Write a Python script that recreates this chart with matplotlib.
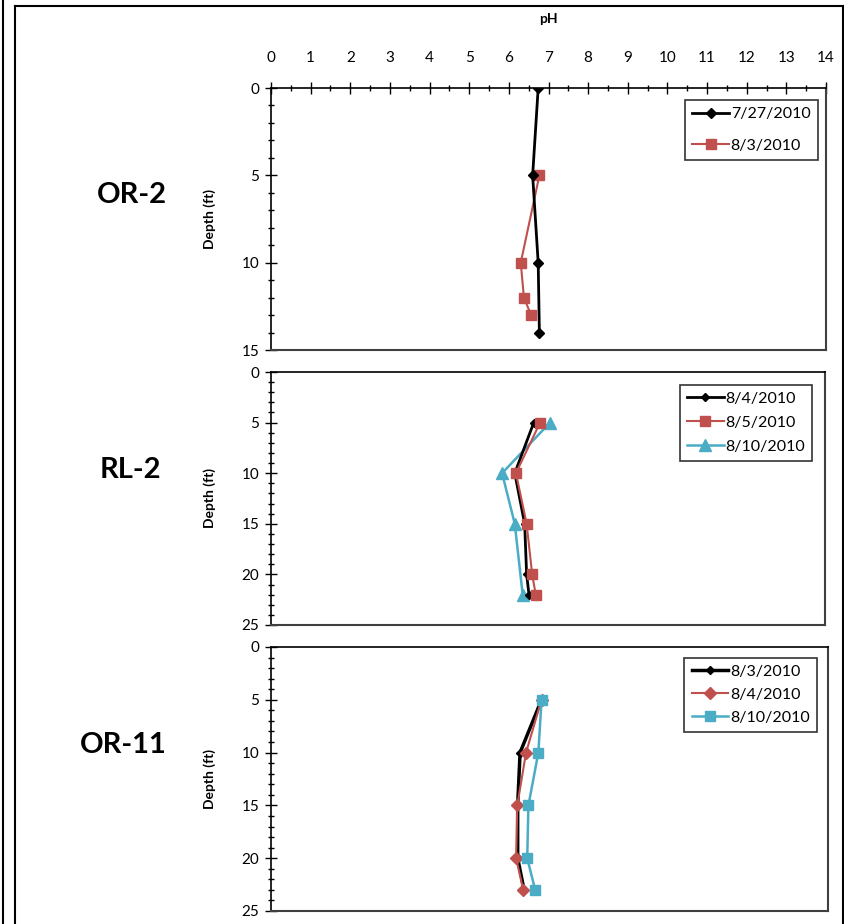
import matplotlib
matplotlib.use("Agg")
from matplotlib import pyplot as plt
from matplotlib.lines import Line2D
from matplotlib.ticker import MultipleLocator

plt.rcParams['font.family'] = ['Lato', 'DejaVu Sans']

BLACK = '#000000'
RED = '#C0504D'
CYAN = '#4BACC6'

# OR-2
or2_labels = ['7/27/2010', '8/3/2010']
or2_depth_a = [0, 5, 10, 14]
or2_ph_a = [6.74, 6.6, 6.74, 6.77]
or2_depth_b = [5, 10, 12, 13]
or2_ph_b = [6.77, 6.3, 6.38, 6.56]

# RL-2
rl2_labels = ['8/4/2010', '8/5/2010', '8/10/2010']
rl2_depth_a = [5, 10, 15, 20, 22]
rl2_ph_a = [6.64, 6.16, 6.41, 6.46, 6.52]
rl2_depth_b = [5, 10, 15, 20, 22]
rl2_ph_b = [6.8, 6.19, 6.46, 6.6, 6.69]
rl2_depth_c = [5, 10, 15, 22]
rl2_ph_c = [7.05, 5.84, 6.16, 6.36]

# OR-11
or11_labels = ['8/3/2010', '8/4/2010', '8/10/2010']
or11_depth_a = [5, 10, 15, 20, 23]
or11_ph_a = [6.8, 6.26, 6.2, 6.2, 6.36]
or11_depth_b = [5, 10, 15, 20, 23]
or11_ph_b = [6.8, 6.41, 6.19, 6.16, 6.34]
or11_depth_c = [5, 10, 15, 20, 23]
or11_ph_c = [6.8, 6.72, 6.47, 6.44, 6.64]

stations = ['OR-2', 'RL-2', 'OR-11']

W, H = 845, 924
fig = plt.figure(figsize=(W / 100, H / 100), dpi=100)


def box(x0, y0, x1, y1):
    return [x0 / W, 1 - y1 / H, (x1 - x0) / W, (y1 - y0) / H]


def style_axes(ax, ymax, top_ticks):
    ax.set_xlim(0, 14)
    ax.set_ylim(ymax, 0)
    ax.yaxis.set_major_locator(MultipleLocator(5))
    ax.yaxis.set_minor_locator(MultipleLocator(1))
    ax.tick_params(axis='y', which='major', direction='inout', length=9, width=1,
                   labelsize=11, pad=4)
    ax.tick_params(axis='y', which='minor', direction='inout', length=5, width=1)
    if top_ticks:
        ax.xaxis.set_ticks_position('top')
        ax.xaxis.set_label_position('top')
        ax.xaxis.set_major_locator(MultipleLocator(1))
        ax.xaxis.set_minor_locator(MultipleLocator(0.5))
        ax.tick_params(axis='x', which='major', direction='inout', length=9, width=1,
                       labelsize=11, pad=12)
        ax.tick_params(axis='x', which='minor', direction='inout', length=4, width=1)
        ax.set_xlabel('pH', fontsize=10, fontweight='bold', labelpad=20)
    else:
        ax.set_xticks([])
    for s in ax.spines.values():
        s.set_color('#404040')
        s.set_linewidth(1.5)
    ax.spines['left'].set_color('black')
    ax.spines['left'].set_linewidth(1.2)
    ax.spines['top'].set_color('black')
    ax.spines['top'].set_linewidth(1.2)
    ax.set_ylabel('Depth (ft)', fontsize=10, fontweight='bold', labelpad=18)


def add_legend(ax, handles, labels, bbox, spacing):
    leg = ax.legend(handles, labels, loc='upper right', bbox_to_anchor=bbox,
                    fontsize=11.5, fancybox=False, framealpha=1,
                    edgecolor='#333333', handlelength=2.3, handletextpad=0.1,
                    labelspacing=spacing, borderpad=0.45, borderaxespad=0)
    leg.get_frame().set_linewidth(1.2)


# panel 1
ax1 = fig.add_axes(box(271, 88, 826, 350))
ax1.plot(or2_ph_b, or2_depth_b, color=RED, marker='s', markersize=7.5, lw=1.5,
         label=or2_labels[1], zorder=3)
ax1.plot(or2_ph_a, or2_depth_a, color=BLACK, marker='D', markersize=5, lw=2,
         label=or2_labels[0], zorder=4)
style_axes(ax1, 15, True)
h, l = ax1.get_legend_handles_labels()
add_legend(ax1, h[::-1], l[::-1], (0.985, 0.955), 1.1)

# panel 2
ax2 = fig.add_axes(box(271, 372, 825, 625))
ax2.plot(rl2_ph_c, rl2_depth_c, color=CYAN, marker='^', markersize=8, lw=1.8,
         label=rl2_labels[2], zorder=3)
ax2.plot(rl2_ph_a, rl2_depth_a, color=BLACK, marker='D', markersize=4, lw=2,
         label=rl2_labels[0], zorder=4)
ax2.plot(rl2_ph_b, rl2_depth_b, color=RED, marker='s', markersize=7.5, lw=1.5,
         label=rl2_labels[1], zorder=5)
style_axes(ax2, 25, False)
h, l = ax2.get_legend_handles_labels()
order = [1, 2, 0]
add_legend(ax2, [h[i] for i in order], [l[i] for i in order], (0.977, 0.95), 0.6)

# panel 3
ax3 = fig.add_axes(box(271, 647, 828, 911))
ax3.plot(or11_ph_a, or11_depth_a, color=BLACK, marker='D', markersize=4, lw=2.5,
         label=or11_labels[0], zorder=3)
ax3.plot(or11_ph_b, or11_depth_b, color=RED, marker='D', markersize=6, lw=1.5,
         label=or11_labels[1], zorder=4)
ax3.plot(or11_ph_c, or11_depth_c, color=CYAN, marker='s', markersize=7.5, lw=1.8,
         label=or11_labels[2], zorder=5)
style_axes(ax3, 25, False)
h, l = ax3.get_legend_handles_labels()
add_legend(ax3, h, l, (0.98, 0.96), 0.55)

# station names
for name, x, y in zip(stations, [97, 100, 80], [195, 470, 745]):
    fig.text(x / W, 1 - y / H, name, fontsize=21, fontweight='bold',
             ha='left', va='center')

# outer frame lines
frame = [((3, 3), (0, H)), ((15, 15), (6, H)), ((15, 843), (6, 6)), ((843, 843), (6, H))]
for xs, ys in frame:
    fig.add_artist(Line2D([x / W for x in xs], [1 - y / H for y in ys],
                          color='black', lw=1.5, transform=fig.transFigure))

fig.savefig('out.png', dpi=100)
